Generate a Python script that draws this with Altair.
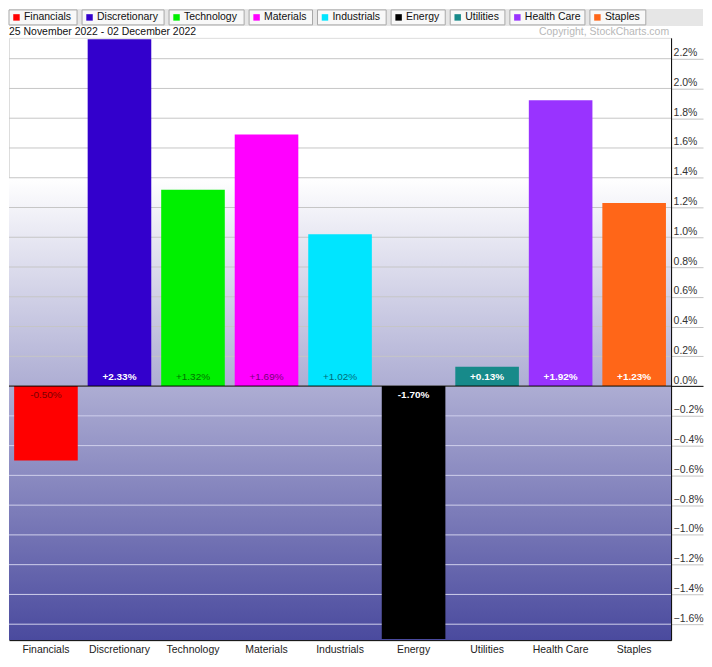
import altair as alt
import pandas as pd

# ---------------- data ----------------
sectors = ["Financials", "Discretionary", "Technology", "Materials", "Industrials",
           "Energy", "Utilities", "Health Care", "Staples"]
changes = [-0.50, 2.33, 1.32, 1.69, 1.02, -1.70, 0.13, 1.92, 1.23]
colors = ["#ff0000", "#3300cc", "#00f000", "#ff00ff", "#00e5ff",
          "#000000", "#178a8a", "#9933ff", "#ff6618"]
label_tones = ["dark", "light", "dark", "dark", "dark", "light", "light", "light", "light"]
y_ticks = [-1.6, -1.4, -1.2, -1.0, -0.8, -0.6, -0.4, -0.2, 0.0,
           0.2, 0.4, 0.6, 0.8, 1.0, 1.2, 1.4, 1.6, 1.8, 2.0, 2.2]
date_range = "25 November 2022 - 02 December 2022"
copyright_text = "Copyright, StockCharts.com"
y_min, y_max = -1.707, 2.34
shade_top = 1.4

# ---------------- layout / style ----------------
W, H = 664, 604
FONT = "Liberation Sans"
FS = 10.5

df = pd.DataFrame({
    "sector": sectors,
    "change": changes,
    "color": colors,
    "label": [f"{v:+.2f}%" for v in changes],
    "tcolor": ["black" if t == "dark" else "white" for t in label_tones],
})

# legend box positions from approximate Arial glyph widths
AW = {"F": 611, "D": 722, "T": 611, "M": 833, "I": 278, "E": 667, "U": 722, "H": 722,
      "S": 667, " ": 278, "a": 556, "c": 500, "e": 556, "g": 556, "h": 556, "i": 222,
      "l": 222, "m": 833, "n": 556, "o": 556, "p": 556, "r": 333, "s": 500, "t": 278,
      "u": 556, "y": 500}


def text_w(s):
    return sum(AW.get(ch, 556) for ch in s) * FS / 1000.0


rows = []
x0 = 0.0
for s, c in zip(sectors, colors):
    bw = text_w(s) + 21
    rows.append({"sector": s, "color": c, "x0": x0, "x1": x0 + bw,
                 "sx": x0 + 7.5, "tx": x0 + 15})
    x0 += bw + 5
leg_df = pd.DataFrame(rows)
one = pd.DataFrame({"date": [date_range], "copy": [copyright_text]})

y_scale = alt.Scale(domain=[y_min, y_max], nice=False, zero=False)
y_axis = alt.Axis(
    orient="right", values=y_ticks, title=None, grid=False,
    domainColor="black", domainWidth=1,
    tickSize=32,
    tickColor={"condition": {"test": "datum.value === 0", "value": "black"}, "value": "#c4c4c4"},
    labelPadding=-30, labelBaseline="bottom", labelAlign="left", labelOffset=-1,
    labelFontSize=FS, labelColor="#333333", labelFont=FONT,
    labelOverlap=False, labelFlush=False, labelBound=False,
    labelExpr="format(datum.value, '.1f') + '%'", zindex=1,
)
x_enc = alt.X(
    "sector:N", sort=sectors,
    scale=alt.Scale(paddingInner=0.135, paddingOuter=0.07),
    axis=alt.Axis(title=None, labelAngle=0, ticks=False, domainColor="black",
                  labelFontSize=FS, labelColor="#222222", labelFont=FONT,
                  labelPadding=4, zindex=1),
)

# ---------------- legend strip ----------------
strip = alt.Chart(one).mark_rect(color="#e6e6e6").encode(
    x=alt.value(0), x2=alt.value(W + 32), y=alt.value(-29), y2=alt.value(-12))
boxes = alt.Chart(leg_df).mark_rect(fill="#f8f8f8", stroke="#a8a8a8", strokeWidth=1).encode(
    x=alt.X("x0:Q", scale=None), x2="x1:Q", y=alt.value(-28), y2=alt.value(-13))
squares = alt.Chart(leg_df).mark_square(size=42, opacity=1).encode(
    x=alt.X("sx:Q", scale=None), y=alt.value(-20.5),
    color=alt.Color("color:N", scale=None))
leg_text = alt.Chart(leg_df).mark_text(
    align="left", baseline="middle", fontSize=FS, font=FONT, color="#111111").encode(
    x=alt.X("tx:Q", scale=None), y=alt.value(-20.5), text="sector:N")

date_txt = alt.Chart(one).mark_text(
    align="left", baseline="middle", fontSize=FS, font=FONT, color="#111111").encode(
    x=alt.value(0), y=alt.value(-5.5), text="date:N")
copy_txt = alt.Chart(one).mark_text(
    align="right", baseline="middle", fontSize=FS, font=FONT, color="#b8b8b8").encode(
    x=alt.value(W - 2), y=alt.value(-5.5), text="copy:N")

# ---------------- plot ----------------
bg_df = pd.DataFrame({"top": [shade_top], "bottom": [y_min]})
bg = alt.Chart(bg_df).mark_rect(
    color={"gradient": "linear", "x1": 0, "y1": 0, "x2": 0, "y2": 1,
           "stops": [{"offset": 0, "color": "#ffffff"},
                     {"offset": 1, "color": "#4a4a9e"}]}
).encode(
    x=alt.value(0), x2=alt.value("width"),
    y=alt.Y("top:Q", scale=y_scale, axis=y_axis), y2="bottom:Q")

grid_df = pd.DataFrame({"tick": y_ticks})
grid = alt.Chart(grid_df).mark_rule(strokeWidth=1).encode(
    y=alt.Y("tick:Q", scale=y_scale, axis=y_axis),
    color=alt.condition("datum.tick < 0", alt.value("#d0d0ec"), alt.value("#c6c6c6")))

bars = alt.Chart(df).mark_bar().encode(
    x=x_enc,
    y=alt.Y("change:Q", scale=y_scale, axis=y_axis),
    y2=alt.datum(0),
    color=alt.Color("color:N", scale=None))


def labels(test, dy, weight):
    return alt.Chart(df).transform_filter(test).transform_calculate(zero="0").mark_text(
        dy=dy, baseline="middle", align="center", fontSize=10, font=FONT, fontWeight=weight
    ).encode(
        x=x_enc,
        y=alt.Y("zero:Q", scale=y_scale, axis=y_axis),
        text="label:N",
        color=alt.Color("tcolor:N", scale=None),
        opacity=alt.condition("datum.tcolor == 'black'", alt.value(0.55), alt.value(1.0)),
    )


lab1 = labels("datum.change >= 0 && datum.tcolor == 'white'", -9, "bold")
lab2 = labels("datum.change >= 0 && datum.tcolor == 'black'", -9, "normal")
lab3 = labels("datum.change < 0 && datum.tcolor == 'white'", 9, "bold")
lab4 = labels("datum.change < 0 && datum.tcolor == 'black'", 9, "normal")

zero_df = pd.DataFrame({"v": [0.0]})
zero = alt.Chart(zero_df).mark_rule(color="black", strokeWidth=1).encode(
    y=alt.Y("v:Q", scale=y_scale, axis=y_axis))

chart = alt.layer(
    bg, grid, bars, lab1, lab2, lab3, lab4, zero,
    strip, boxes, squares, leg_text, date_txt, copy_txt,
).properties(
    width=W, height=H, padding=0, background="white"
).configure_view(stroke=None).configure(font=FONT)

chart.save("out.html", embed_options={"renderer": "svg", "actions": False})
